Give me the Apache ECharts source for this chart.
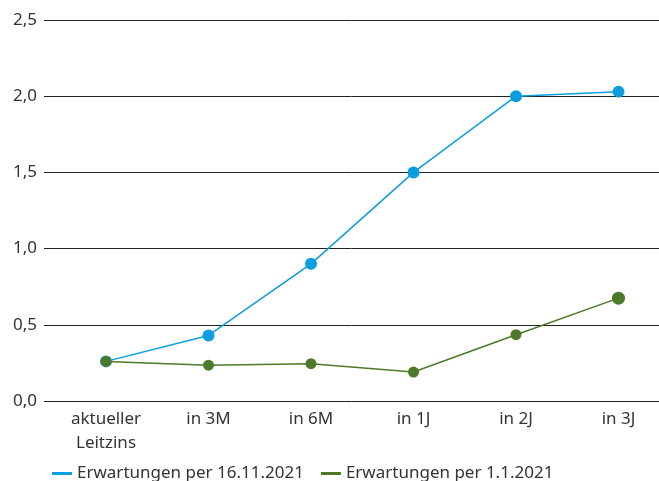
<!DOCTYPE html>
<html><head><meta charset="utf-8">
<script src="https://cdn.jsdelivr.net/npm/echarts@6/dist/echarts.min.js"></script>
<style>html,body{margin:0;padding:0;background:#fff}#c{width:659px;height:481px}</style>
</head><body><div id="c"></div>
<script>
const categories = ['aktueller\nLeitzins', 'in 3M', 'in 6M', 'in 1J', 'in 2J', 'in 3J'];
const seriesNov = [0.26, 0.43, 0.90, 1.50, 2.00, 2.03];
const seriesJan = [0.26, 0.235, 0.245, 0.19, 0.435, 0.675];
const nameNov = 'Erwartungen per 16.11.2021';
const nameJan = 'Erwartungen per 1.1.2021';
const yMin = 0, yMax = 2.5, yStep = 0.5;

const FONT = 'Noto Sans';
const FS = 17;
const chart = echarts.init(document.getElementById('c'), null, {renderer: 'canvas'});
chart.setOption({
  animation: false,
  textStyle: {fontFamily: FONT},
  grid: [
    {left: 54.75, width: 615, top: 20, bottom: 80, containLabel: false, outerBoundsMode: 'none'},
    {left: 44, right: 0, top: 20, bottom: 80, containLabel: false, outerBoundsMode: 'none'}
  ],
  xAxis: [
    {type: 'category', gridIndex: 0, data: categories, boundaryGap: true,
     axisLine: {show: false}, axisTick: {show: false},
     axisLabel: {color: '#333', fontSize: FS, margin: 6, lineHeight: 24, fontFamily: FONT, interval: 0}},
    {type: 'value', gridIndex: 1, show: false, min: 0, max: 1}
  ],
  yAxis: [
    {type: 'value', gridIndex: 0, min: yMin, max: yMax, interval: yStep, show: false},
    {type: 'value', gridIndex: 1, min: yMin, max: yMax, interval: yStep,
     axisLine: {show: false}, axisTick: {show: false},
     splitLine: {show: true, lineStyle: {color: '#222', width: 1}},
     axisLabel: {color: '#333', fontSize: FS, margin: 7, fontFamily: FONT,
       formatter: v => v.toFixed(1).replace('.', ',')}}
  ],
  legend: {
    top: 460, left: 47, itemGap: 17, itemWidth: 20, itemHeight: 3, icon: 'rect',
    textStyle: {color: '#333', fontSize: FS, fontFamily: FONT},
    data: [nameNov, nameJan]
  },
  series: [
    {name: nameNov, type: 'line', xAxisIndex: 0, yAxisIndex: 0, data: seriesNov,
     color: '#0a9ee0', symbol: 'circle', symbolSize: 12, z: 3,
     lineStyle: {width: 1.5, color: '#0a9ee0'}, itemStyle: {color: '#0a9ee0'}},
    {name: nameJan, type: 'line', xAxisIndex: 0, yAxisIndex: 0,
     data: seriesJan.map((v, i) => i === seriesJan.length - 1 ? {value: v, symbolSize: 13} : v),
     color: '#4d7a2a', symbol: 'circle', symbolSize: 11, z: 4,
     lineStyle: {width: 1.5, color: '#4d7a2a'}, itemStyle: {color: '#4d7a2a'}}
  ]
});
</script></body></html>
